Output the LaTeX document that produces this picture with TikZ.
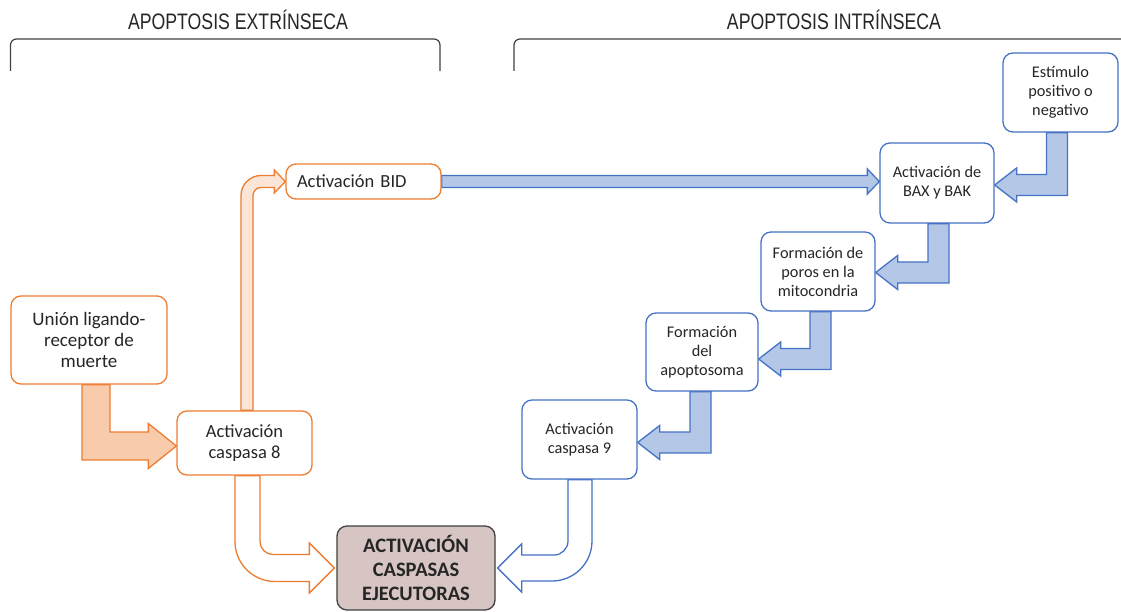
\documentclass[tikz,border=0pt]{standalone}
\usepackage{fontspec}
\setmainfont{Carlito}
\newfontfamily\headfont[FakeStretch=0.79]{Liberation Sans}
\usetikzlibrary{calc}
\pgfdeclarelayer{background}
\pgfsetlayers{background,main}

\definecolor{ink}{HTML}{262626}
\definecolor{orangeline}{HTML}{ED7D31}
\definecolor{orangefill}{HTML}{F8CBAD}
\definecolor{orangepale}{HTML}{FBE5D6}
\definecolor{blueline}{HTML}{4472C4}
\definecolor{bluefill}{HTML}{B4C7E7}
\definecolor{ejfill}{HTML}{D7C5C3}
\definecolor{darkline}{HTML}{3F3F3F}
\definecolor{bracketgray}{HTML}{404040}

% Bent block arrow: down out of #1, then left into the east side of #2.
% #3 shifts the shaft sideways, #4 shifts the head vertically.
\newcommand{\bentleft}[4]{%
  \path[bluearrow] let \p1=(#1.south), \p2=(#2.east) in
    ({\x1+#3pt-10.5pt},\y1) -- ({\x1+#3pt+10.5pt},\y1)
    -- ({\x1+#3pt+10.5pt},{\y2+#4pt-10.5pt}) -- ({\x2+22pt},{\y2+#4pt-10.5pt})
    -- ({\x2+22pt},{\y2+#4pt-17pt}) -- (\x2,{\y2+#4pt})
    -- ({\x2+22pt},{\y2+#4pt+17pt}) -- ({\x2+22pt},{\y2+#4pt+10.5pt})
    -- ({\x1+#3pt-10.5pt},{\y2+#4pt+10.5pt}) -- cycle;}

\begin{document}
\begin{tikzpicture}[x=1pt,y=1pt,
  box/.style={draw, rounded corners=10pt, line width=1.3pt, fill=white,
    text=ink, align=center, inner sep=0pt},
  obox/.style={box, draw=orangeline, font=\fontsize{18.5}{20.5}\selectfont},
  bbox/.style={box, draw=blueline, font=\fontsize{16.3}{19}\selectfont},
  heading/.style={font=\headfont\fontsize{22.4}{24}\selectfont, text=ink,
    anchor=base, inner sep=0pt},
  bracket/.style={draw=bracketgray, line width=1.2pt, rounded corners=6pt},
  bluearrow/.style={draw=blueline, fill=bluefill, line width=1.3pt},
  orangearrow/.style={draw=orangeline, line width=1.3pt},
  outlinearrow/.style={fill=white, line width=1.3pt}]
\useasboundingbox (0,0) rectangle (1121,-612);

% headings and brackets
\node[heading] (extr) at (238,-30) {APOPTOSIS EXTRÍNSECA};
\node[heading] (intr) at (834,-30) {APOPTOSIS INTRÍNSECA};
\draw[bracket] (10.5,-71) -- (10.5,-39) -- (440,-39) -- (440,-71);
\draw[bracket] (514,-71) -- (514,-39) -- (1140,-39);

% extrinsic pathway
\node[obox, minimum width=156pt, minimum height=88pt,
  font=\fontsize{19}{20.7}\selectfont] (union) at (89,-340)
  {Unión ligando-\\receptor de\\muerte};
\node[obox, minimum width=135pt, minimum height=64pt] (casp8) at (244.5,-443)
  {Activación\\caspasa 8};
\node[obox, minimum height=35pt, text width=133pt, align=left, inner xsep=11pt]
  (bid) at (363.5,-181.5) {Activación BID};
\node[box, draw=darkline, fill=ejfill, minimum width=158pt, minimum height=84pt,
  font=\bfseries\fontsize{20.5}{24}\selectfont] (ejec) at (416,-568)
  {ACTIVACIÓN\\CASPASAS\\EJECUTORAS};

% intrinsic pathway
\node[bbox, minimum width=115pt, minimum height=79pt] (estim) at (1060.5,-92.5)
  {Estímulo\\positivo o\\negativo};
\node[bbox, minimum width=114pt, minimum height=80pt] (bax) at (937,-183)
  {Activación de\\BAX y BAK};
\node[bbox, minimum width=114pt, minimum height=79pt] (poros) at (818,-271.5)
  {Formación de\\poros en la\\mitocondria};
\node[bbox, minimum width=112pt, minimum height=78pt] (apop) at (702,-352)
  {Formación\\del\\apoptosoma};
\node[bbox, minimum width=115pt, minimum height=79pt] (casp9) at (579.5,-439.5)
  {Activación\\caspasa 9};

\begin{pgfonlayer}{background}
% union -> caspase 8
\path[orangearrow, fill=orangefill] let \p1=(union.south), \p2=(casp8.west) in
  ({\x1-7pt},\y1) -- ({\x1-7pt},{\y2-17pt}) -- ({\x2-28pt},{\y2-17pt})
  -- ({\x2-28pt},{\y2-25.5pt}) -- (\x2,{\y2-3pt}) -- ({\x2-28pt},{\y2+19.5pt})
  -- ({\x2-28pt},{\y2+11pt}) -- ({\x1+21pt},{\y2+11pt}) -- ({\x1+21pt},\y1) -- cycle;

% caspase 8 -> BID
\path[orangearrow, fill=orangepale] let \p1=(casp8.north), \p2=(bid.west) in
  ({\x1-3.5pt},\y1) -- ({\x1-3.5pt},{\y2+6pt-20pt})
  arc[start angle=180, end angle=90, radius=20pt]
  -- ({\x2-11pt},{\y2+6pt}) -- ({\x2-11pt},{\y2+11.5pt}) -- (\x2,\y2)
  -- ({\x2-11pt},{\y2-11.5pt}) -- ({\x2-11pt},{\y2-6pt})
  -- ({\x1+16.5pt},{\y2-6pt}) arc[start angle=90, end angle=180, radius=8pt]
  -- ({\x1+8.5pt},\y1) -- cycle;

% caspase 8 -> executioner caspases
\path[outlinearrow, draw=orangeline] let \p1=(casp8.south), \p2=(ejec.west) in
  ({\x1-9.5pt},\y1) -- ({\x1-9.5pt},{\y2-13.5pt+40pt})
  arc[start angle=180, end angle=270, radius=40pt]
  -- ({\x2-27pt},{\y2-13.5pt}) -- ({\x2-27pt},{\y2-25pt}) -- ({\x2-2pt},\y2)
  -- ({\x2-27pt},{\y2+25pt}) -- ({\x2-27pt},{\y2+13.5pt})
  -- ({\x1+28.5pt},{\y2+13.5pt}) arc[start angle=270, end angle=180, radius=13pt]
  -- ({\x1+15.5pt},\y1) -- cycle;

% caspase 9 -> executioner caspases
\path[outlinearrow, draw=blueline] let \p1=(casp9.south), \p2=(ejec.east) in
  ({\x1+12.5pt},\y1) -- ({\x1+12.5pt},{\y2-13pt+40pt})
  arc[start angle=0, end angle=-90, radius=40pt]
  -- ({\x2+26pt},{\y2-13pt}) -- ({\x2+26pt},{\y2-24pt}) -- ({\x2+2pt},\y2)
  -- ({\x2+26pt},{\y2+24pt}) -- ({\x2+26pt},{\y2+13pt})
  -- ({\x1-25.5pt},{\y2+13pt}) arc[start angle=-90, end angle=0, radius=14pt]
  -- ({\x1-11.5pt},\y1) -- cycle;

% BID -> BAX/BAK
\path[bluearrow] let \p1=(bid.east), \p2=(bax.west) in
  (\x1,{\y1+6pt}) -- ({\x2-12pt},{\y1+6pt}) -- ({\x2-12pt},{\y1+12.5pt})
  -- (\x2,\y1) -- ({\x2-12pt},{\y1-12.5pt}) -- ({\x2-12pt},{\y1-6pt})
  -- (\x1,{\y1-6pt}) -- cycle;

% intrinsic cascade
\bentleft{estim}{bax}{-3.5}{-2}
\bentleft{bax}{poros}{1.5}{-1}
\bentleft{poros}{apop}{2.5}{-7}
\bentleft{apop}{casp9}{-1.5}{-3}
\end{pgfonlayer}
\end{tikzpicture}
\end{document}
